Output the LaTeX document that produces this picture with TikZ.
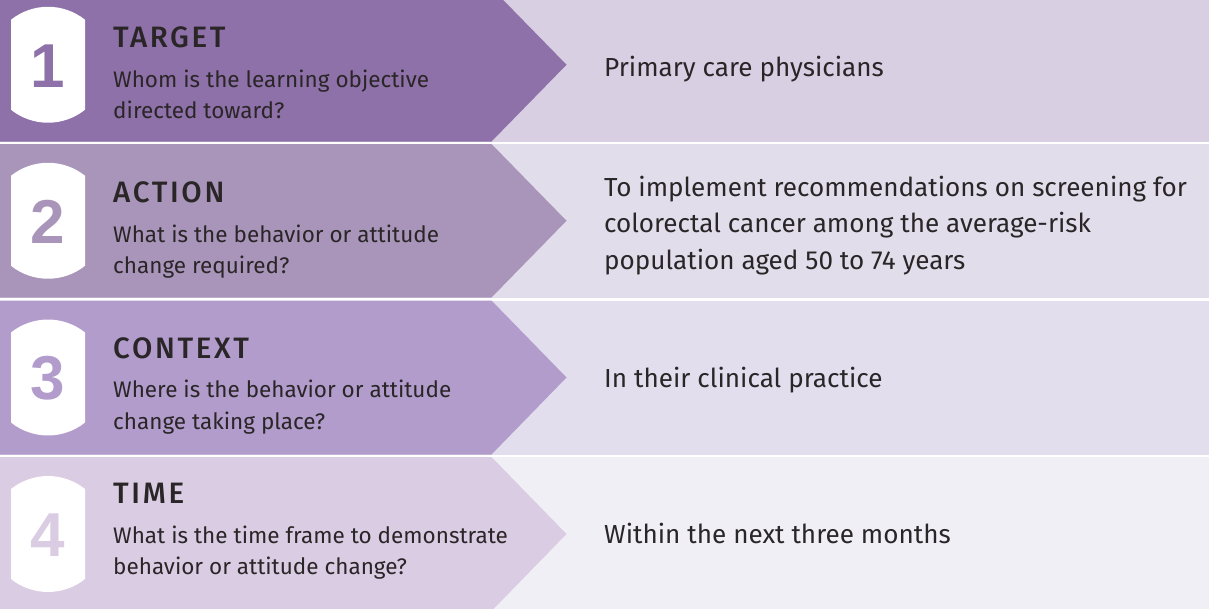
\documentclass[tikz,border=0pt]{standalone}
\usepackage{fontspec}
\setmainfont{Fira Sans}
\newfontfamily\numfont{Liberation Sans}[BoldFont=* Bold]
\newfontfamily\headfont{Fira Sans Medium}[LetterSpace=9]
\definecolor{ink}{HTML}{2A2527}
\definecolor{darkA}{HTML}{8E71A8}\definecolor{lightA}{HTML}{D8CFE3}
\definecolor{darkB}{HTML}{A995BA}\definecolor{lightB}{HTML}{E2DDEA}
\definecolor{darkC}{HTML}{B19CCB}\definecolor{lightC}{HTML}{E2DEED}
\definecolor{darkD}{HTML}{D9CCE3}\definecolor{lightD}{HTML}{F1EFF6}
\tikzset{
  headtext/.style={anchor=base west, inner sep=0pt, text=ink, font=\headfont\fontsize{29.5}{30}\selectfont},
  subtext/.style={anchor=base west, inner sep=0pt, text=ink, align=left, font=\fontsize{22.5}{31.3}\selectfont},
  answertext/.style={anchor=base west, inner sep=0pt, text=ink, align=left, font=\fontsize{26.1}{36.5}\selectfont},
  numtext/.style={inner sep=0pt, font=\numfont\bfseries\fontsize{62}{62}\selectfont}
}
% one row: top, bottom, dark colour, light colour, name
\newcommand{\steprow}[5]{%
  \fill[#4] (0,#1) rectangle (1209,#2);
  \fill[#3] (0,#1) -- (491.5,#1) -- (566.5,{(#1+#2)/2}) -- (491.5,#2) -- (0,#2) -- cycle;
  \fill[white] (11,{(#1+#2)/2-45}) .. controls (32.6,{(#1+#2)/2-62.3}) and (63.4,{(#1+#2)/2-62.3}) .. (85,{(#1+#2)/2-45})
     -- (85,{(#1+#2)/2+45}) .. controls (63.4,{(#1+#2)/2+62.3}) and (32.6,{(#1+#2)/2+62.3}) .. (11,{(#1+#2)/2+45}) -- cycle;
  \node[numtext, text=#3] (#5num) at (48,{(#1+#2)/2+1}) {#5};
}
\begin{document}
\begin{tikzpicture}[x=1pt,y=-1pt]
\useasboundingbox (0,0) rectangle (1209,608);
\fill[white] (0,0) rectangle (1209,608);
\begin{scope}
\clip (0,0) rectangle (1209,608);
\steprow{-12}{141.5}{darkA}{lightA}{1}
\steprow{144}{297.5}{darkB}{lightB}{2}
\steprow{300.5}{454.5}{darkC}{lightC}{3}
\steprow{457}{611}{darkD}{lightD}{4}
\end{scope}

% multi-line texts are placed by the baseline of their last line
\node[headtext] (targethead) at (113,47) {TARGET};
\node[subtext] (targetsub) at (113,118.3) {Whom is the learning objective\\directed toward?};
\node[answertext] (targetans) at (604,76) {Primary care physicians};

\node[headtext] (actionhead) at (113,202) {ACTION};
\node[subtext] (actionsub) at (113,273.3) {What is the behavior or attitude\\change required?};
\node[answertext] (actionans) at (604,269) {To implement recommendations on screening for\\colorectal cancer among the average-risk\\population aged 50 to 74 years};

\node[headtext] (contexthead) at (113,358.5) {CONTEXT};
\node[subtext] (contextsub) at (113,429) {Where is the behavior or attitude\\change taking place?};
\node[answertext] (contextans) at (604,387.7) {In their clinical practice};

\node[headtext] (timehead) at (113,503) {TIME};
\node[subtext] (timesub) at (113,574.3) {What is the time frame to demonstrate\\behavior or attitude change?};
\node[answertext] (timeans) at (604,543.3) {Within the next three months};
\end{tikzpicture}
\end{document}
